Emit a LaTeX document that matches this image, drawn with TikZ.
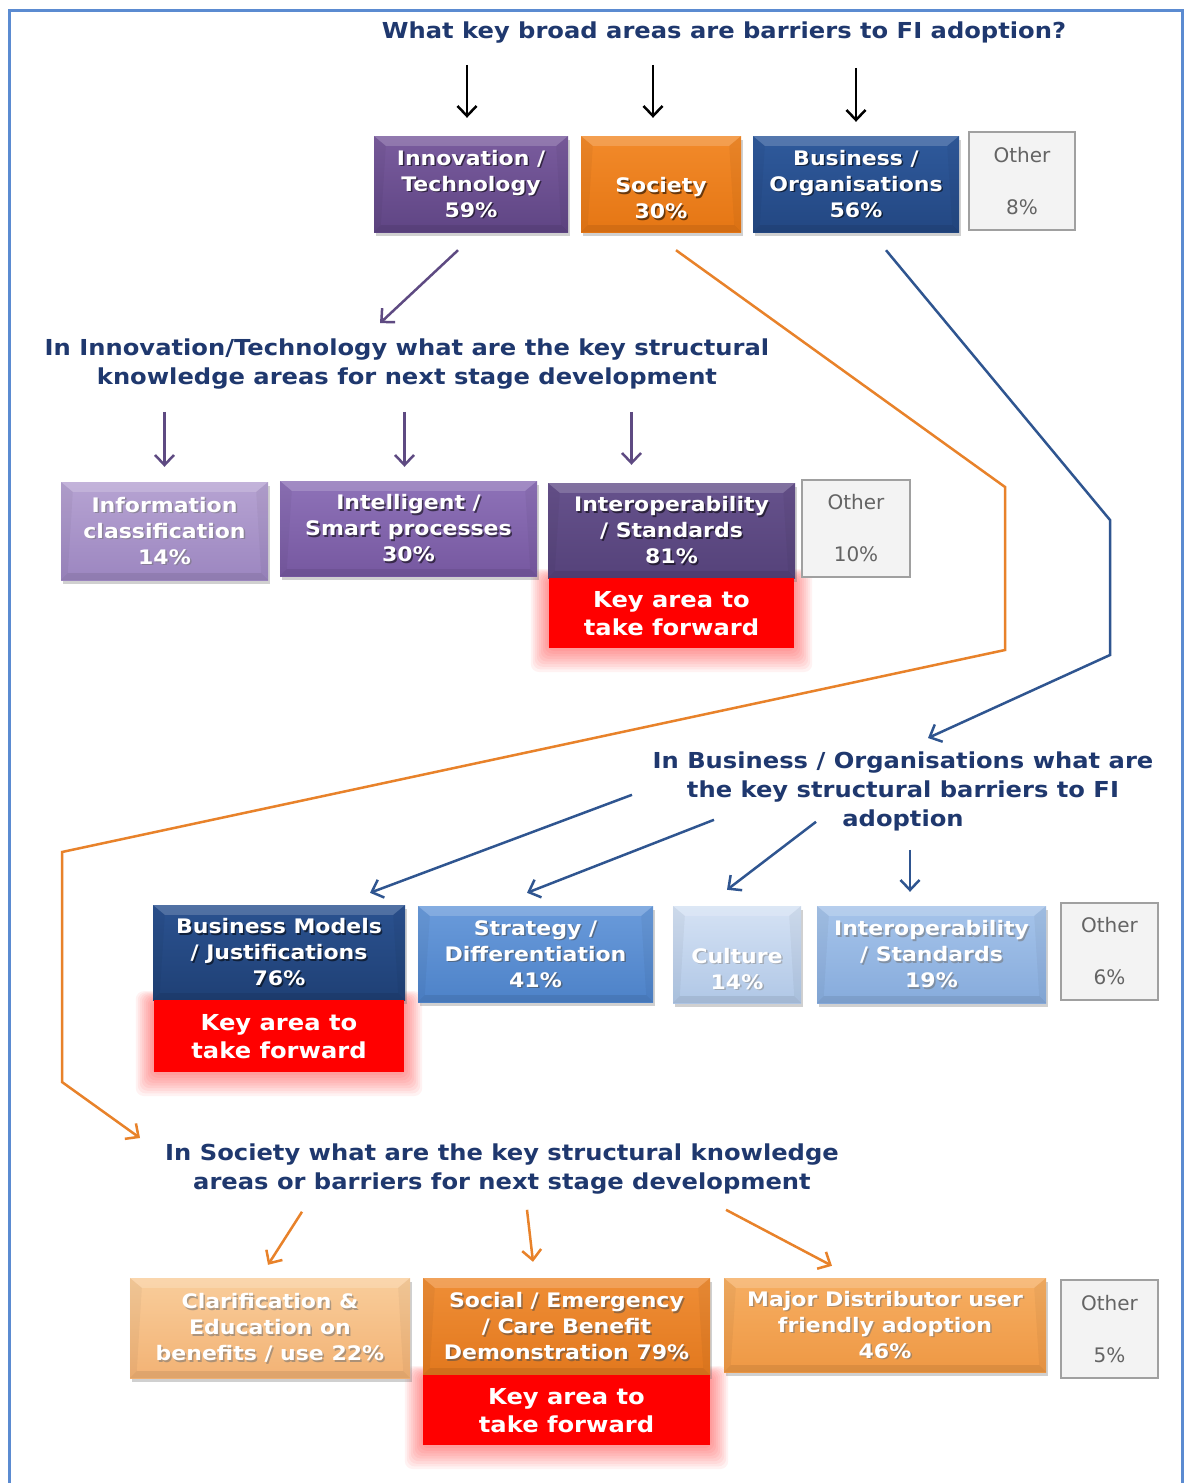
\documentclass[tikz,border=0pt]{standalone}
\usepackage{fontspec}
\setmainfont{DejaVu Sans}[BoldFeatures={FakeStretch=1.1}]
\usetikzlibrary{arrows.meta,shadows,backgrounds,calc}

\definecolor{navy}{RGB}{31,56,110}
\definecolor{framec}{RGB}{91,139,209}
\definecolor{purA}{RGB}{94,74,130}
\definecolor{bluA}{RGB}{47,85,144}
\definecolor{oraA}{RGB}{232,130,42}
\definecolor{keyred}{RGB}{255,0,0}
\definecolor{othfill}{RGB}{243,243,243}
\definecolor{othline}{RGB}{160,160,160}
\definecolor{othtext}{RGB}{100,100,100}

% draws a bevelled box: name, centre, width, height, colour style, text, text-shadow colour
\newcommand\mkbox[7]{%
  \node[boxbase,#5,minimum width=#3,minimum height=#4] (#1) at #2 {};
  \fill[white,opacity=0.18] (#1.north west) -- (#1.north east) -- ([shift={(-12,10)}]#1.north east) -- ([shift={(12,10)}]#1.north west) -- cycle;
  \fill[black,opacity=0.08] (#1.south west) -- (#1.south east) -- ([shift={(-7,-7)}]#1.south east) -- ([shift={(7,-7)}]#1.south west) -- cycle;
  \fill[black,opacity=0.04] (#1.north west) -- ([shift={(12,10)}]#1.north west) -- ([shift={(7,-7)}]#1.south west) -- (#1.south west) -- cycle;
  \fill[black,opacity=0.04] (#1.north east) -- ([shift={(-12,10)}]#1.north east) -- ([shift={(-7,-7)}]#1.south east) -- (#1.south east) -- cycle;
  \node[boxtxt,text=#7,opacity=0.55] (#1-s) at ([shift={(1.5,1.5)}]#1.center) {#6};
  \node[boxtxt] (#1-t) at (#1.center) {#6};
}

\begin{document}
\begin{tikzpicture}[x=1pt,y=-1pt,
  boxbase/.style={rectangle,inner sep=0pt,
    drop shadow={shadow xshift=2pt,shadow yshift=-4pt,opacity=0.3,fill=black!60}},
  boxtxt/.style={text=white,align=center,inner sep=0pt,
    font=\bfseries\fontsize{20}{26}\selectfont},
  othbox/.style={rectangle,inner sep=0pt,fill=othfill,draw=othline,line width=1.5pt,
    text=othtext,align=center,font=\fontsize{20}{26}\selectfont},
  keybox/.style={rectangle,inner sep=0pt,fill=keyred,text=white,align=center,
    font=\bfseries\fontsize{22}{28}\selectfont},
  question/.style={text=navy,align=center,inner sep=0pt,
    font=\bfseries\fontsize{22}{29}\selectfont},
  inno/.style={top color={rgb,255:red,122;green,92;blue,158},bottom color={rgb,255:red,95;green,69;blue,132}},
  socc/.style={top color={rgb,255:red,242;green,138;blue,42},bottom color={rgb,255:red,229;green,118;blue,20}},
  busc/.style={top color={rgb,255:red,47;green,90;blue,156},bottom color={rgb,255:red,35;green,71;blue,130}},
  infoc/.style={top color={rgb,255:red,182;green,163;blue,210},bottom color={rgb,255:red,156;green,134;blue,192}},
  intelc/.style={top color={rgb,255:red,142;green,114;blue,184},bottom color={rgb,255:red,118;green,88;blue,160}},
  iopac/.style={top color={rgb,255:red,102;green,82;blue,140},bottom color={rgb,255:red,85;green,66;blue,122}},
  bmc/.style={top color={rgb,255:red,43;green,82;blue,144},bottom color={rgb,255:red,31;green,64;blue,117}},
  stratc/.style={top color={rgb,255:red,106;green,155;blue,219},bottom color={rgb,255:red,77;green,130;blue,200}},
  cultc/.style={top color={rgb,255:red,213;green,226;blue,244},bottom color={rgb,255:red,176;green,199;blue,230}},
  iopbc/.style={top color={rgb,255:red,166;green,196;blue,234},bottom color={rgb,255:red,134;green,171;blue,220}},
  clarc/.style={top color={rgb,255:red,249;green,205;blue,155},bottom color={rgb,255:red,242;green,178;blue,116}},
  soc2c/.style={top color={rgb,255:red,239;green,142;blue,54},bottom color={rgb,255:red,226;green,120;blue,30}},
  majc/.style={top color={rgb,255:red,246;green,174;blue,98},bottom color={rgb,255:red,238;green,152;blue,68}},
  arr/.style={line width=2.5pt,-{Straight Barb[length=10pt,width=19pt]}},
  blackarr/.style={arr,draw=black},
  purarr/.style={arr,draw=purA},
  bluarr/.style={arr,draw=bluA},
  oraarr/.style={arr,draw=oraA},
  glow/.style={fill=keyred,opacity=0.05,rounded corners=8pt}
]
\useasboundingbox (0,0) rectangle (1189,1483);
\begin{scope}[on background layer]
  \fill[white] (0,0) rectangle (1189,1483);
\end{scope}

% outer frame (open at the bottom)
\draw[framec,line width=2.5pt] (9.5,1490) -- (9.5,10.5) -- (1182.5,10.5) -- (1182.5,1490);

% ---------- level 1 ----------
\node[question] (q0) at (724,33) {What key broad areas are barriers to FI adoption?};

\mkbox{inn}{(471,184)}{194pt}{96pt}{inno}{Innovation /\\Technology\\59\%}{black}
\mkbox{soc}{(661,184)}{160pt}{96pt}{socc}{\strut\\Society\\30\%}{black}
\mkbox{bus}{(856,184)}{206pt}{96pt}{busc}{Business /\\Organisations\\56\%}{black}
\node[othbox,minimum width=106pt,minimum height=98pt] (oth1) at (1022,181) {Other\\~\\8\%};

\draw[blackarr] ([shift={(-4,-71)}]inn.north) -- ([shift={(-4,-18)}]inn.north);
\draw[blackarr] ([shift={(-8,-71)}]soc.north) -- ([shift={(-8,-18)}]soc.north);
\draw[blackarr] ([shift={(0,-68)}]bus.north) -- ([shift={(0,-14)}]bus.north);

% ---------- innovation / technology ----------
\node[question] (q1) at (407,364.5) {In Innovation/Technology what are the key structural\\knowledge areas for next stage development};
\draw[purarr] ([shift={(-13,18)}]inn.south) -- ([shift={(-91,91)}]inn.south);

\mkbox{info}{(164.5,531)}{207pt}{98pt}{infoc}{Information\\classification\\14\%}{black!55}
\mkbox{intel}{(408.5,528.5)}{257pt}{95pt}{intelc}{Intelligent /\\Smart processes\\30\%}{black}
\mkbox{iopa}{(671.5,530.5)}{247pt}{95pt}{iopac}{Interoperability\\/ Standards\\81\%}{black}
\node[othbox,minimum width=108pt,minimum height=97pt] (oth2) at (856,528.5) {Other\\~\\10\%};
\node[keybox,anchor=north,minimum width=245pt,minimum height=70pt] (key1) at (iopa.south) {Key area to\\take forward};

\draw[purarr] ([shift={(0,-70)}]info.north) -- ([shift={(0,-15)}]info.north);
\draw[purarr] ([shift={(-4,-69)}]intel.north) -- ([shift={(-4,-14)}]intel.north);
\draw[purarr] ([shift={(-40,-71)}]iopa.north) -- ([shift={(-40,-18)}]iopa.north);

% ---------- business / organisations ----------
\node[question] (q2) at (903,791) {In Business / Organisations what are\\the key structural barriers to FI\\adoption};

\coordinate (bb1) at (1110,520);
\coordinate (bb2) at (1110,655);
\coordinate (bbe) at (928,738);
\draw[bluarr] ([shift={(30,18)}]bus.south) -- (bb1) -- (bb2) -- (bbe);

\mkbox{bm}{(279,952.5)}{252pt}{95pt}{bmc}{Business Models\\/ Justifications\\76\%}{black}
\mkbox{strat}{(535.5,954)}{235pt}{96pt}{stratc}{Strategy /\\Differentiation\\41\%}{black!70}
\mkbox{cult}{(737,954.5)}{128pt}{97pt}{cultc}{\strut\\Culture\\14\%}{black!45}
\mkbox{iopb}{(931.5,954.5)}{229pt}{97pt}{iopbc}{Interoperability\\/ Standards\\19\%}{black!55}
\node[othbox,minimum width=97pt,minimum height=97pt] (oth3) at (1109.5,951.5) {Other\\~\\6\%};
\node[keybox,anchor=north,minimum width=250pt,minimum height=72pt] (key2) at (bm.south) {Key area to\\take forward};

\draw[bluarr] ([shift={(353,-110)}]bm.north) -- ([shift={(91,-12)}]bm.north);
\draw[bluarr] ([shift={(178.5,-86)}]strat.north) -- ([shift={(-8.5,-13)}]strat.north);
\draw[bluarr] ([shift={(79,-84)}]cult.north) -- ([shift={(-10,-16)}]cult.north);
\draw[bluarr] ([shift={(-21.5,-56)}]iopb.north) -- ([shift={(-21.5,-14)}]iopb.north);

% ---------- society ----------
\node[question] (q3) at (502,1169.5) {In Society what are the key structural knowledge\\areas or barriers for next stage development};

\coordinate (ob1) at (1005,487);
\coordinate (ob2) at (1005,650);
\coordinate (ob3) at (62,852);
\coordinate (ob4) at (62,1082);
\coordinate (obe) at (140,1138);
\draw[oraarr] ([shift={(15,18)}]soc.south) -- (ob1) -- (ob2) -- (ob3) -- (ob4) -- (obe);

\mkbox{clar}{(270,1328)}{280pt}{100pt}{clarc}{Clarification \&\\Education on\\benefits / use 22\%}{black!55}
\mkbox{soctwo}{(566.5,1326.5)}{287pt}{97pt}{soc2c}{Social / Emergency\\/ Care Benefit\\Demonstration 79\%}{black!70}
\mkbox{major}{(885,1325)}{322pt}{94pt}{majc}{Major Distributor user\\friendly adoption\\46\%}{black!55}
\node[othbox,minimum width=97pt,minimum height=98pt] (oth4) at (1109.5,1329) {Other\\~\\5\%};
\node[keybox,anchor=north,minimum width=287pt,minimum height=70pt] (key3) at (soctwo.south) {Key area to\\take forward};

\draw[oraarr] ([shift={(32,-66)}]clar.north) -- ([shift={(-2,-13)}]clar.north);
\draw[oraarr] ([shift={(-39.5,-68)}]soctwo.north) -- ([shift={(-33.5,-16)}]soctwo.north);
\draw[oraarr] ([shift={(-159,-68)}]major.north) -- ([shift={(-53,-12)}]major.north);

% soft red glow behind the key-area boxes
\begin{scope}[on background layer]
  \foreach \k in {key1,key2,key3}{
    \foreach \i in {1,...,9}{
      \fill[glow] ([shift={(-2*\i,-1*\i)}]\k.north west) rectangle ([shift={(2*\i,2.6*\i)}]\k.south east);
    }
  }
\end{scope}
\end{tikzpicture}
\end{document}
